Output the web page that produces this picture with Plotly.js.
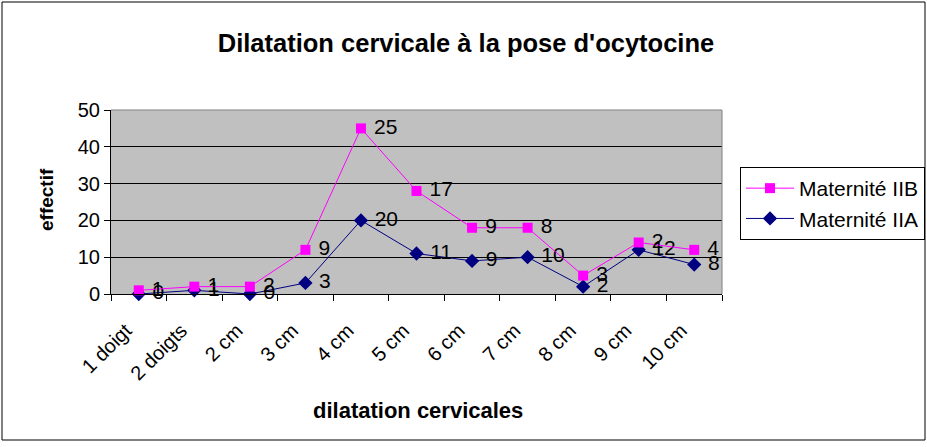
<!DOCTYPE html>
<html><head><meta charset="utf-8">
<script src="https://cdn.plot.ly/plotly-3.0.1.min.js"></script>
<style>body{margin:0;background:#fff}#c{width:927px;height:447px}</style>
</head><body><div id="c"></div>
<script>
const categories = ['1 doigt','2 doigts','2 cm','3 cm','4 cm','5 cm','6 cm','7 cm','8 cm','9 cm','10 cm'];
const mat2A = [0,1,0,3,20,11,9,10,2,12,8];
const mat2B = [1,1,2,9,25,17,9,8,3,2,4];
const yTicks = [0,10,20,30,40,50];

// stacked line: IIB drawn on top of IIA
const stackedB = mat2B.map((v,i)=>v+mat2A[i]);
const lbl = v => '\u00a0' + v;

const font = 'Arial, "Liberation Sans", sans-serif';
const L=111, R=722, T=110, B=294, W=927, H=447;
const pw=R-L, ph=B-T;
const px = x => (x-L)/pw, py = y => (B-y)/ph;

const traces = [
 {x:categories, y:mat2A, name:'Maternité IIA', mode:'lines+markers+text', text:mat2A.map(lbl),
  textposition:'middle right', textfont:{family:font,size:21,color:'#000'},
  line:{color:'#000080',width:1}, marker:{symbol:'diamond',size:11,color:'#000080'},
  legendgroup:'a', cliponaxis:false},
 {x:categories, y:stackedB, name:'Maternité IIB', mode:'lines+markers+text', text:mat2B.map(lbl),
  textposition:'middle right', textfont:{family:font,size:21,color:'#000'},
  line:{color:'#FF00FF',width:1}, marker:{symbol:'square',size:10,color:'#FF00FF'},
  legendgroup:'b', cliponaxis:false}
];

const layout = {
 width:W, height:H, margin:{l:L,r:W-R,t:T,b:H-B,pad:0,autoexpand:false},
 paper_bgcolor:'#fff', plot_bgcolor:'#C0C0C0',
 font:{family:font,color:'#000'},
 title:{text:"<b>Dilatation cervicale à la pose d'ocytocine</b>", font:{family:font,size:25.5,color:'#000'},
   x:466/W, xanchor:'center', y:1-43/H, yanchor:'middle', xref:'container', yref:'container'},
 showlegend:true,
 legend:{x:px(740), y:py(167), xanchor:'left', yanchor:'top', traceorder:'reversed',
   bordercolor:'#000', borderwidth:1, bgcolor:'#fff', font:{family:font,size:21,color:'#000'}, itemwidth:48,
   tracegroupgap:8},
 xaxis:{type:'category', tickson:'boundaries', ticks:'outside', ticklen:6, tickcolor:'#000',
   showline:true, linecolor:'#000', linewidth:1, showgrid:false, tickangle:-45, automargin:false,
   ticklabelstandoff:16, ticklabelshift:-13,
   tickfont:{family:font,size:20,color:'#000'}, range:[-0.5,10.5], fixedrange:true},
 yaxis:{range:[0,50], tickvals:yTicks, ticks:'outside', ticklen:6, tickcolor:'#000', automargin:false,
   showline:true, linecolor:'#000', linewidth:1, showgrid:true, gridcolor:'#000', gridwidth:1,
   zeroline:false, tickfont:{family:font,size:20,color:'#000'}, fixedrange:true},
 annotations:[
  {text:'<b>dilatation cervicales</b>', xref:'paper', yref:'paper', x:px(418), y:py(410), xanchor:'center', yanchor:'middle',
   showarrow:false, font:{family:font,size:22,color:'#000'}},
  {text:'<b>effectif</b>', xref:'paper', yref:'paper', x:px(46), y:py(200), xanchor:'center', yanchor:'middle',
   textangle:-90, showarrow:false, font:{family:font,size:19,color:'#000'}}
 ],
 shapes:[
  {type:'rect', xref:'paper', yref:'paper', x0:px(2), x1:px(925), y0:py(440), y1:py(2), line:{color:'#000',width:1}},
  {type:'line', xref:'paper', yref:'paper', x0:0, x1:1, y0:1, y1:1, line:{color:'#808080',width:1}},
  {type:'line', xref:'paper', yref:'paper', x0:1, x1:1, y0:0, y1:1, line:{color:'#808080',width:1}}
 ]
};
Plotly.newPlot('c', traces, layout, {staticPlot:true});
</script></body></html>
